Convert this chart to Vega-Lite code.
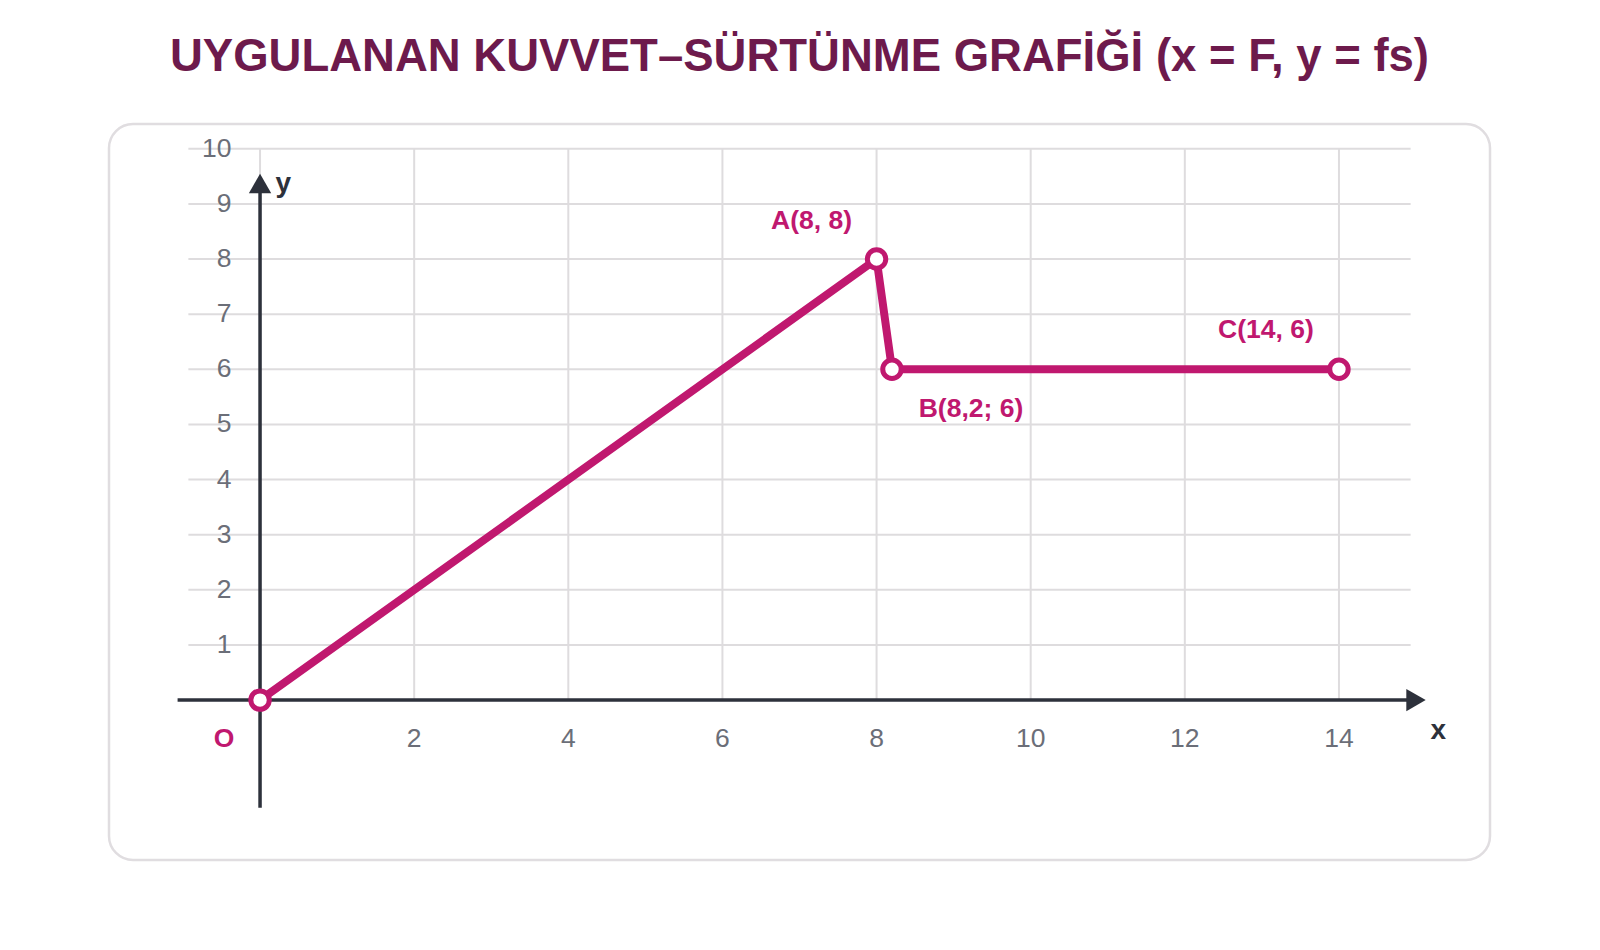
{
  "$schema": "https://vega.github.io/schema/vega-lite/v6.json",
  "width": 1381,
  "height": 736,
  "autosize": "none",
  "padding": {"left": 109, "top": 124, "right": 110, "bottom": 90},
  "background": "white",
  "title": {
    "text": "UYGULANAN KUVVET–SÜRTÜNME GRAFİĞİ (x = F, y = fs)",
    "fontSize": 45.5,
    "fontWeight": "bold",
    "color": "#6d1a4c",
    "anchor": "middle",
    "baseline": "alphabetic",
    "offset": 8
  },
  "datasets": {
    "points": [
      {"F": 0, "fs": 0, "name": "O", "label": "O"},
      {"F": 8, "fs": 8, "name": "A", "label": "A(8, 8)"},
      {"F": 8.2, "fs": 6, "name": "B", "label": "B(8,2; 6)"},
      {"F": 14, "fs": 6, "name": "C", "label": "C(14, 6)"}
    ],
    "hgrid": [
      {"fs": 1}, {"fs": 2}, {"fs": 3}, {"fs": 4}, {"fs": 5},
      {"fs": 6}, {"fs": 7}, {"fs": 8}, {"fs": 9}, {"fs": 10}
    ],
    "vgrid": [
      {"F": 0}, {"F": 2}, {"F": 4}, {"F": 6}, {"F": 8},
      {"F": 10}, {"F": 12}, {"F": 14}
    ],
    "one": [{}]
  },
  "layer": [
    {
      "data": {"name": "hgrid"},
      "mark": {"type": "rule", "color": "#dedcde", "strokeWidth": 2},
      "encoding": {
        "y": {
          "field": "fs",
          "type": "quantitative",
          "scale": {"domain": [-2.9, 10.45], "nice": false, "zero": false}
        },
        "x": {
          "datum": -0.93,
          "type": "quantitative",
          "scale": {"domain": [-1.96, 15.96], "nice": false, "zero": false}
        },
        "x2": {"datum": 14.93}
      }
    },
    {
      "data": {"name": "vgrid"},
      "mark": {"type": "rule", "color": "#dedcde", "strokeWidth": 2},
      "encoding": {
        "x": {"field": "F", "type": "quantitative"},
        "y": {"datum": 0, "type": "quantitative"},
        "y2": {"datum": 10}
      }
    },
    {
      "data": {"name": "one"},
      "mark": {"type": "rule", "color": "#2d313b", "strokeWidth": 3.5},
      "encoding": {
        "x": {"datum": -1.07, "type": "quantitative"},
        "x2": {"datum": 14.9},
        "y": {"datum": 0, "type": "quantitative"}
      }
    },
    {
      "data": {"name": "one"},
      "mark": {"type": "rule", "color": "#2d313b", "strokeWidth": 3.5},
      "encoding": {
        "x": {"datum": 0, "type": "quantitative"},
        "y": {"datum": -1.95, "type": "quantitative"},
        "y2": {"datum": 9.2}
      }
    },
    {
      "data": {"name": "one"},
      "mark": {"type": "point", "shape": "triangle-right", "filled": true, "color": "#2d313b", "opacity": 1, "size": 500},
      "encoding": {
        "x": {"datum": 15.0, "type": "quantitative"},
        "y": {"datum": 0, "type": "quantitative"}
      }
    },
    {
      "data": {"name": "one"},
      "mark": {"type": "point", "shape": "triangle-up", "filled": true, "color": "#2d313b", "opacity": 1, "size": 500},
      "encoding": {
        "x": {"datum": 0, "type": "quantitative"},
        "y": {"datum": 9.37, "type": "quantitative"}
      }
    },
    {
      "data": {"name": "points"},
      "mark": {"type": "line", "color": "#c0186f", "strokeWidth": 8},
      "encoding": {
        "x": {"field": "F", "type": "quantitative"},
        "y": {"field": "fs", "type": "quantitative"}
      }
    },
    {
      "data": {"name": "points"},
      "mark": {"type": "point", "shape": "circle", "filled": false, "fill": "white", "fillOpacity": 1, "stroke": "#c0186f", "strokeWidth": 5, "opacity": 1, "size": 340},
      "encoding": {
        "x": {"field": "F", "type": "quantitative"},
        "y": {"field": "fs", "type": "quantitative"}
      }
    },
    {
      "data": {"name": "points"},
      "transform": [{"filter": "datum.name == 'A'"}],
      "mark": {"type": "text", "fontSize": 26.5, "fontWeight": "bold", "color": "#c0186f", "dx": -65, "dy": -38},
      "encoding": {
        "x": {"field": "F", "type": "quantitative"},
        "y": {"field": "fs", "type": "quantitative"},
        "text": {"field": "label"}
      }
    },
    {
      "data": {"name": "points"},
      "transform": [{"filter": "datum.name == 'B'"}],
      "mark": {"type": "text", "fontSize": 26.5, "fontWeight": "bold", "color": "#c0186f", "dx": 79, "dy": 40},
      "encoding": {
        "x": {"field": "F", "type": "quantitative"},
        "y": {"field": "fs", "type": "quantitative"},
        "text": {"field": "label"}
      }
    },
    {
      "data": {"name": "points"},
      "transform": [{"filter": "datum.name == 'C'"}],
      "mark": {"type": "text", "fontSize": 26.5, "fontWeight": "bold", "color": "#c0186f", "dx": -73, "dy": -39},
      "encoding": {
        "x": {"field": "F", "type": "quantitative"},
        "y": {"field": "fs", "type": "quantitative"},
        "text": {"field": "label"}
      }
    },
    {
      "data": {"name": "points"},
      "transform": [{"filter": "datum.name == 'O'"}],
      "mark": {"type": "text", "fontSize": 26.5, "fontWeight": "bold", "color": "#c0186f", "dx": -36, "dy": 39},
      "encoding": {
        "x": {"field": "F", "type": "quantitative"},
        "y": {"field": "fs", "type": "quantitative"},
        "text": {"field": "label"}
      }
    },
    {
      "data": {"name": "hgrid"},
      "mark": {"type": "text", "fontSize": 26.5, "color": "#6b6e78", "align": "right", "baseline": "middle"},
      "encoding": {
        "x": {"datum": -0.37, "type": "quantitative"},
        "y": {"field": "fs", "type": "quantitative"},
        "text": {"field": "fs", "type": "quantitative"}
      }
    },
    {
      "data": {"name": "vgrid"},
      "transform": [{"filter": "datum.F > 0"}],
      "mark": {"type": "text", "fontSize": 26.5, "color": "#6b6e78", "align": "center", "baseline": "middle"},
      "encoding": {
        "x": {"field": "F", "type": "quantitative"},
        "y": {"datum": -0.7, "type": "quantitative"},
        "text": {"field": "F", "type": "quantitative"}
      }
    },
    {
      "data": {"name": "one"},
      "mark": {"type": "text", "fontSize": 28, "fontWeight": "bold", "color": "#2d313b", "baseline": "middle"},
      "encoding": {
        "x": {"datum": 0.3, "type": "quantitative"},
        "y": {"datum": 9.37, "type": "quantitative"},
        "text": {"value": "y"}
      }
    },
    {
      "data": {"name": "one"},
      "mark": {"type": "text", "fontSize": 28, "fontWeight": "bold", "color": "#2d313b", "baseline": "middle"},
      "encoding": {
        "x": {"datum": 15.29, "type": "quantitative"},
        "y": {"datum": -0.56, "type": "quantitative"},
        "text": {"value": "x"}
      }
    }
  ],
  "config": {
    "font": "Liberation Sans",
    "axis": {"disable": true},
    "view": {"stroke": "#e0dde0", "strokeWidth": 2.5, "cornerRadius": 24}
  }
}
